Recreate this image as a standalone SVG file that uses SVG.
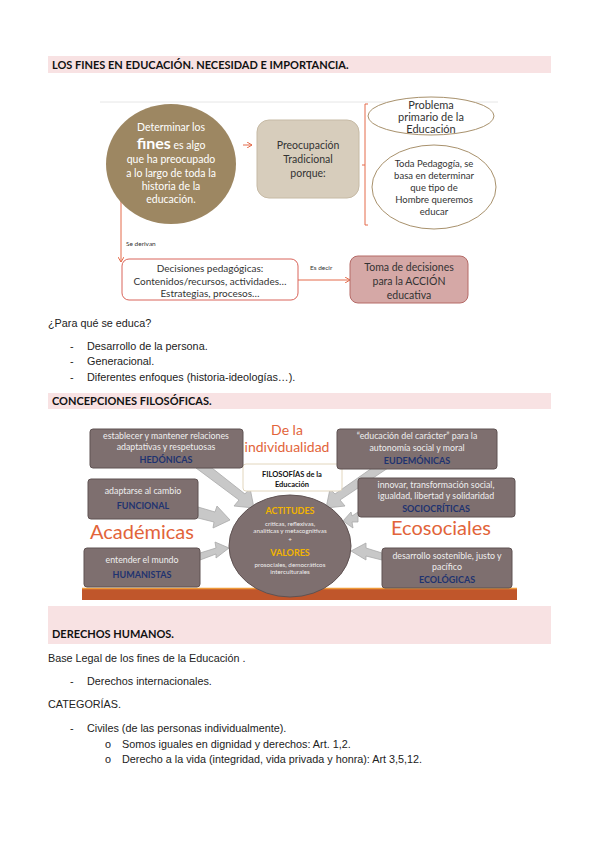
<svg xmlns="http://www.w3.org/2000/svg" width="599" height="848" viewBox="0 0 599 848">
<defs>
<style>
.body{font-family:"Liberation Sans",Arial,sans-serif;font-size:10.8px;fill:#222}
.hdr{font-family:Lato,"Liberation Sans",sans-serif;font-size:11px;font-weight:bold;fill:#111}
.cal{font-family:Lato,"Liberation Sans",sans-serif}
.band{fill:#f8e2e3}
.wt{fill:#fff;font-family:Lato,"Liberation Sans",sans-serif;font-size:10.5px;text-anchor:middle}
.dk{fill:#333;font-family:Lato,"Liberation Sans",sans-serif;text-anchor:middle}
.gbox{fill:#7e6f6f;stroke:#5f5252;stroke-width:1}
.gt{fill:#eee;font-family:Lato,"Liberation Sans",sans-serif;font-size:8.8px;text-anchor:middle}
.bl{fill:#1f3370;font-family:Lato,"Liberation Sans",sans-serif;font-size:9px;font-weight:bold;text-anchor:middle}
.org{fill:#e2643a;font-family:Lato,"Liberation Sans",sans-serif;text-anchor:middle}
.arr{fill:#c8c8c8;stroke:#a9a9a9;stroke-width:0.8}
.ln{stroke:#e46b4a;stroke-width:1;fill:none}
.sm{font-size:6.3px;fill:#eee;text-anchor:middle}
</style>
<marker id="ah" markerWidth="6" markerHeight="6" refX="5" refY="3" orient="auto" markerUnits="userSpaceOnUse">
<path d="M0,0 L5,3 L0,6" fill="none" stroke="#e46b4a" stroke-width="1"/>
</marker>
</defs>
<rect width="599" height="848" fill="#fff"/>

<!-- Header 1 -->
<rect class="band" x="48" y="56" width="503" height="17"/>
<text class="hdr" x="52" y="69">LOS FINES EN EDUCACIÓN. NECESIDAD E IMPORTANCIA.</text>

<!-- Diagram 1 -->
<line x1="100" y1="102" x2="498" y2="102" stroke="#e6e6e6" stroke-width="1"/>

<g id="connectors1">
<line class="ln" x1="243" y1="145" x2="252" y2="145" marker-end="url(#ah)"/>
<path class="ln" d="M368,104 H365 V225 H368 M365,165 H362"/>
<line class="ln" x1="121" y1="190" x2="121" y2="262" marker-end="url(#ah)"/>
<text class="cal" x="126" y="246" font-size="6.5" fill="#333">Se derivan</text>
<line class="ln" x1="298" y1="280" x2="350" y2="280" marker-end="url(#ah)"/>
<text class="cal" x="310" y="270" font-size="6.5" fill="#333">Es decir</text>
</g>

<g id="circle-fines">
<ellipse cx="171" cy="164" rx="65" ry="60" fill="#9d8762"/>
<text class="wt" x="171" y="131">Determinar los</text>
<text class="wt" x="171" y="149"><tspan font-size="16" font-weight="bold">fines</tspan> es algo</text>
<text class="wt" x="171" y="163">que ha preocupado</text>
<text class="wt" x="171" y="177">a lo largo de toda la</text>
<text class="wt" x="171" y="190">historia de la</text>
<text class="wt" x="171" y="203">educación.</text>
</g>

<g id="box-preocupacion">
<rect x="257" y="120" width="102" height="78" rx="12" fill="#d7cdbc" stroke="#c6baa5"/>
<text class="dk" x="308" y="149" font-size="10.5">Preocupación</text>
<text class="dk" x="308" y="163" font-size="10.5">Tradicional</text>
<text class="dk" x="308" y="177" font-size="10.5">porque:</text>
</g>

<g id="ellipse-problema">
<ellipse cx="431" cy="116" rx="63" ry="19" fill="#fff" stroke="#a8916c" stroke-width="1"/>
<text class="dk" x="431" y="109" font-size="11">Problema</text>
<text class="dk" x="431" y="121" font-size="11">primario de la</text>
<text class="dk" x="431" y="133" font-size="11">Educación</text>
</g>

<g id="ellipse-pedagogia">
<ellipse cx="434" cy="187" rx="62" ry="42" fill="#fff" stroke="#a8916c" stroke-width="1"/>
<text class="dk" x="434" y="167" font-size="9.5">Toda Pedagogía, se</text>
<text class="dk" x="434" y="179" font-size="9.5">basa en determinar</text>
<text class="dk" x="434" y="191" font-size="9.5">que tipo de</text>
<text class="dk" x="434" y="203" font-size="9.5">Hombre queremos</text>
<text class="dk" x="434" y="215" font-size="9.5">educar</text>
</g>

<g id="box-decisiones">
<rect x="122" y="259" width="176" height="41" rx="7" fill="#fff" stroke="#d9645a" stroke-width="1"/>
<text class="dk" x="210" y="272" font-size="10">Decisiones pedagógicas:</text>
<text class="dk" x="210" y="285" font-size="10">Contenidos/recursos, actividades…</text>
<text class="dk" x="210" y="297" font-size="10">Estrategias, procesos…</text>
</g>

<g id="box-toma">
<rect x="350" y="256" width="118" height="47" rx="8" fill="#d5a8a6" stroke="#b56a67" stroke-width="1"/>
<text class="dk" x="409" y="271" font-size="10.5">Toma de decisiones</text>
<text class="dk" x="409" y="285" font-size="10.5">para la ACCIÓN</text>
<text class="dk" x="409" y="299" font-size="10.5">educativa</text>
</g>

<!-- Text block 1 -->
<text class="body" x="48" y="327">¿Para qué se educa?</text>
<text class="body" x="70" y="350">-</text>
<text class="body" x="87" y="350">Desarrollo de la persona.</text>
<text class="body" x="70" y="365">-</text>
<text class="body" x="87" y="365">Generacional.</text>
<text class="body" x="70" y="381">-</text>
<text class="body" x="87" y="381">Diferentes enfoques (historia-ideologías…).</text>

<!-- Header 2 -->
<rect class="band" x="48" y="393" width="503" height="16"/>
<text class="hdr" x="52" y="405">CONCEPCIONES FILOSÓFICAS.</text>

<!-- Diagram 2 -->
<rect x="82" y="588" width="435" height="12" fill="#c0562b"/>
<line x1="82" y1="588.5" x2="517" y2="588.5" stroke="#ef9a3a" stroke-width="1.5"/>

<g id="arrows2">
<polygon class="arr" points="196,468 212,468 245,494 250,488 254,508 234,506 239,500"/>
<polygon class="arr" points="372,468 388,468 340,500 345,506 326,508 330,489 335,494"/>
<polygon class="arr" points="198,507 215,512 217,506 230,520 213,528 214,522 198,518"/>
<polygon class="arr" points="358,512 358,522 352,522 353,528 343,521 351,512 352,516"/>
<polygon class="arr" points="200,553 216,548 215,542 229,548 216,558 216,554 200,560"/>
<polygon class="arr" points="382,553 366,548 366,543 351,551 366,560 366,556 382,560"/>
</g>

<g id="box-filosofias">
<rect x="243" y="464" width="99" height="27" rx="3" fill="#fff" stroke="#e2d6bd" stroke-width="1"/>
<text class="cal" x="292" y="477" font-size="7.5" font-weight="bold" fill="#111" text-anchor="middle">FILOSOFÍAS de la</text>
<text class="cal" x="292" y="487" font-size="7.5" font-weight="bold" fill="#111" text-anchor="middle">Educación</text>
</g>

<g id="box-hedonicas">
<rect class="gbox" x="90" y="429" width="153" height="39" rx="3"/>
<text class="gt" x="166" y="439">establecer y mantener relaciones</text>
<text class="gt" x="166" y="450">adaptativas y respetuosas</text>
<text class="bl" x="166" y="463">HEDÓNICAS</text>
</g>

<g id="box-eudemonicas">
<rect class="gbox" x="337" y="429" width="160" height="40" rx="3"/>
<text class="gt" x="417" y="439">“educación del carácter” para la</text>
<text class="gt" x="417" y="451">autonomía social y moral</text>
<text class="bl" x="417" y="464">EUDEMÓNICAS</text>
</g>

<g id="box-funcional">
<rect class="gbox" x="88" y="479" width="110" height="40" rx="3"/>
<text class="gt" x="143" y="494">adaptarse al cambio</text>
<text class="bl" x="143" y="509">FUNCIONAL</text>
</g>

<g id="box-sociocriticas">
<rect class="gbox" x="358" y="478" width="157" height="39" rx="3"/>
<text class="gt" x="436" y="488">innovar, transformación social,</text>
<text class="gt" x="436" y="499">igualdad, libertad y solidaridad</text>
<text class="bl" x="436" y="512">SOCIOCRÍTICAS</text>
</g>

<g id="box-humanistas">
<rect class="gbox" x="84" y="548" width="116" height="39" rx="3"/>
<text class="gt" x="142" y="563">entender el mundo</text>
<text class="bl" x="142" y="578">HUMANISTAS</text>
</g>

<g id="box-ecologicas">
<rect class="gbox" x="382" y="548" width="130" height="40" rx="3"/>
<text class="gt" x="447" y="559">desarrollo sostenible, justo y</text>
<text class="gt" x="447" y="570">pacífico</text>
<text class="bl" x="447" y="583">ECOLÓGICAS</text>
</g>

<g id="circle-actitudes">
<ellipse cx="290" cy="546" rx="61" ry="51" fill="#7e6f6f" stroke="#5f5252" stroke-width="1"/>
<text class="cal" x="290" y="514" font-size="9" font-weight="bold" fill="#f2b400" text-anchor="middle">ACTITUDES</text>
<text class="cal sm" x="290" y="526">críticas, reflexivas,</text>
<text class="cal sm" x="290" y="533">analíticas y metacognitivas</text>
<text class="cal sm" x="290" y="542">+</text>
<text class="cal" x="290" y="556" font-size="9" font-weight="bold" fill="#f2b400" text-anchor="middle">VALORES</text>
<text class="cal sm" x="290" y="567">prosociales, democráticos</text>
<text class="cal sm" x="290" y="574">interculturales</text>
</g>

<g id="labels2">
<text class="org" x="287" y="435" font-size="14">De la</text>
<text class="org" x="287" y="452" font-size="14">individualidad</text>
<text class="org" x="142" y="539" font-size="20">Académicas</text>
<text class="org" x="441" y="535" font-size="20">Ecosociales</text>
</g>

<!-- Header 3 -->
<rect class="band" x="48" y="606" width="503" height="38"/>
<text class="hdr" x="52" y="638">DERECHOS HUMANOS.</text>

<!-- Text block 2 -->
<text class="body" x="48" y="662">Base Legal de los fines de la Educación .</text>
<text class="body" x="70" y="685">-</text>
<text class="body" x="87" y="685">Derechos internacionales.</text>
<text class="body" x="48" y="708">CATEGORÍAS.</text>
<text class="body" x="70" y="732">-</text>
<text class="body" x="87" y="732">Civiles (de las personas individualmente).</text>
<text class="body" x="105" y="748">o</text>
<text class="body" x="122" y="748">Somos iguales en dignidad y derechos: Art. 1,2.</text>
<text class="body" x="105" y="763">o</text>
<text class="body" x="122" y="763">Derecho a la vida (integridad, vida privada y honra): Art 3,5,12.</text>
</svg>
